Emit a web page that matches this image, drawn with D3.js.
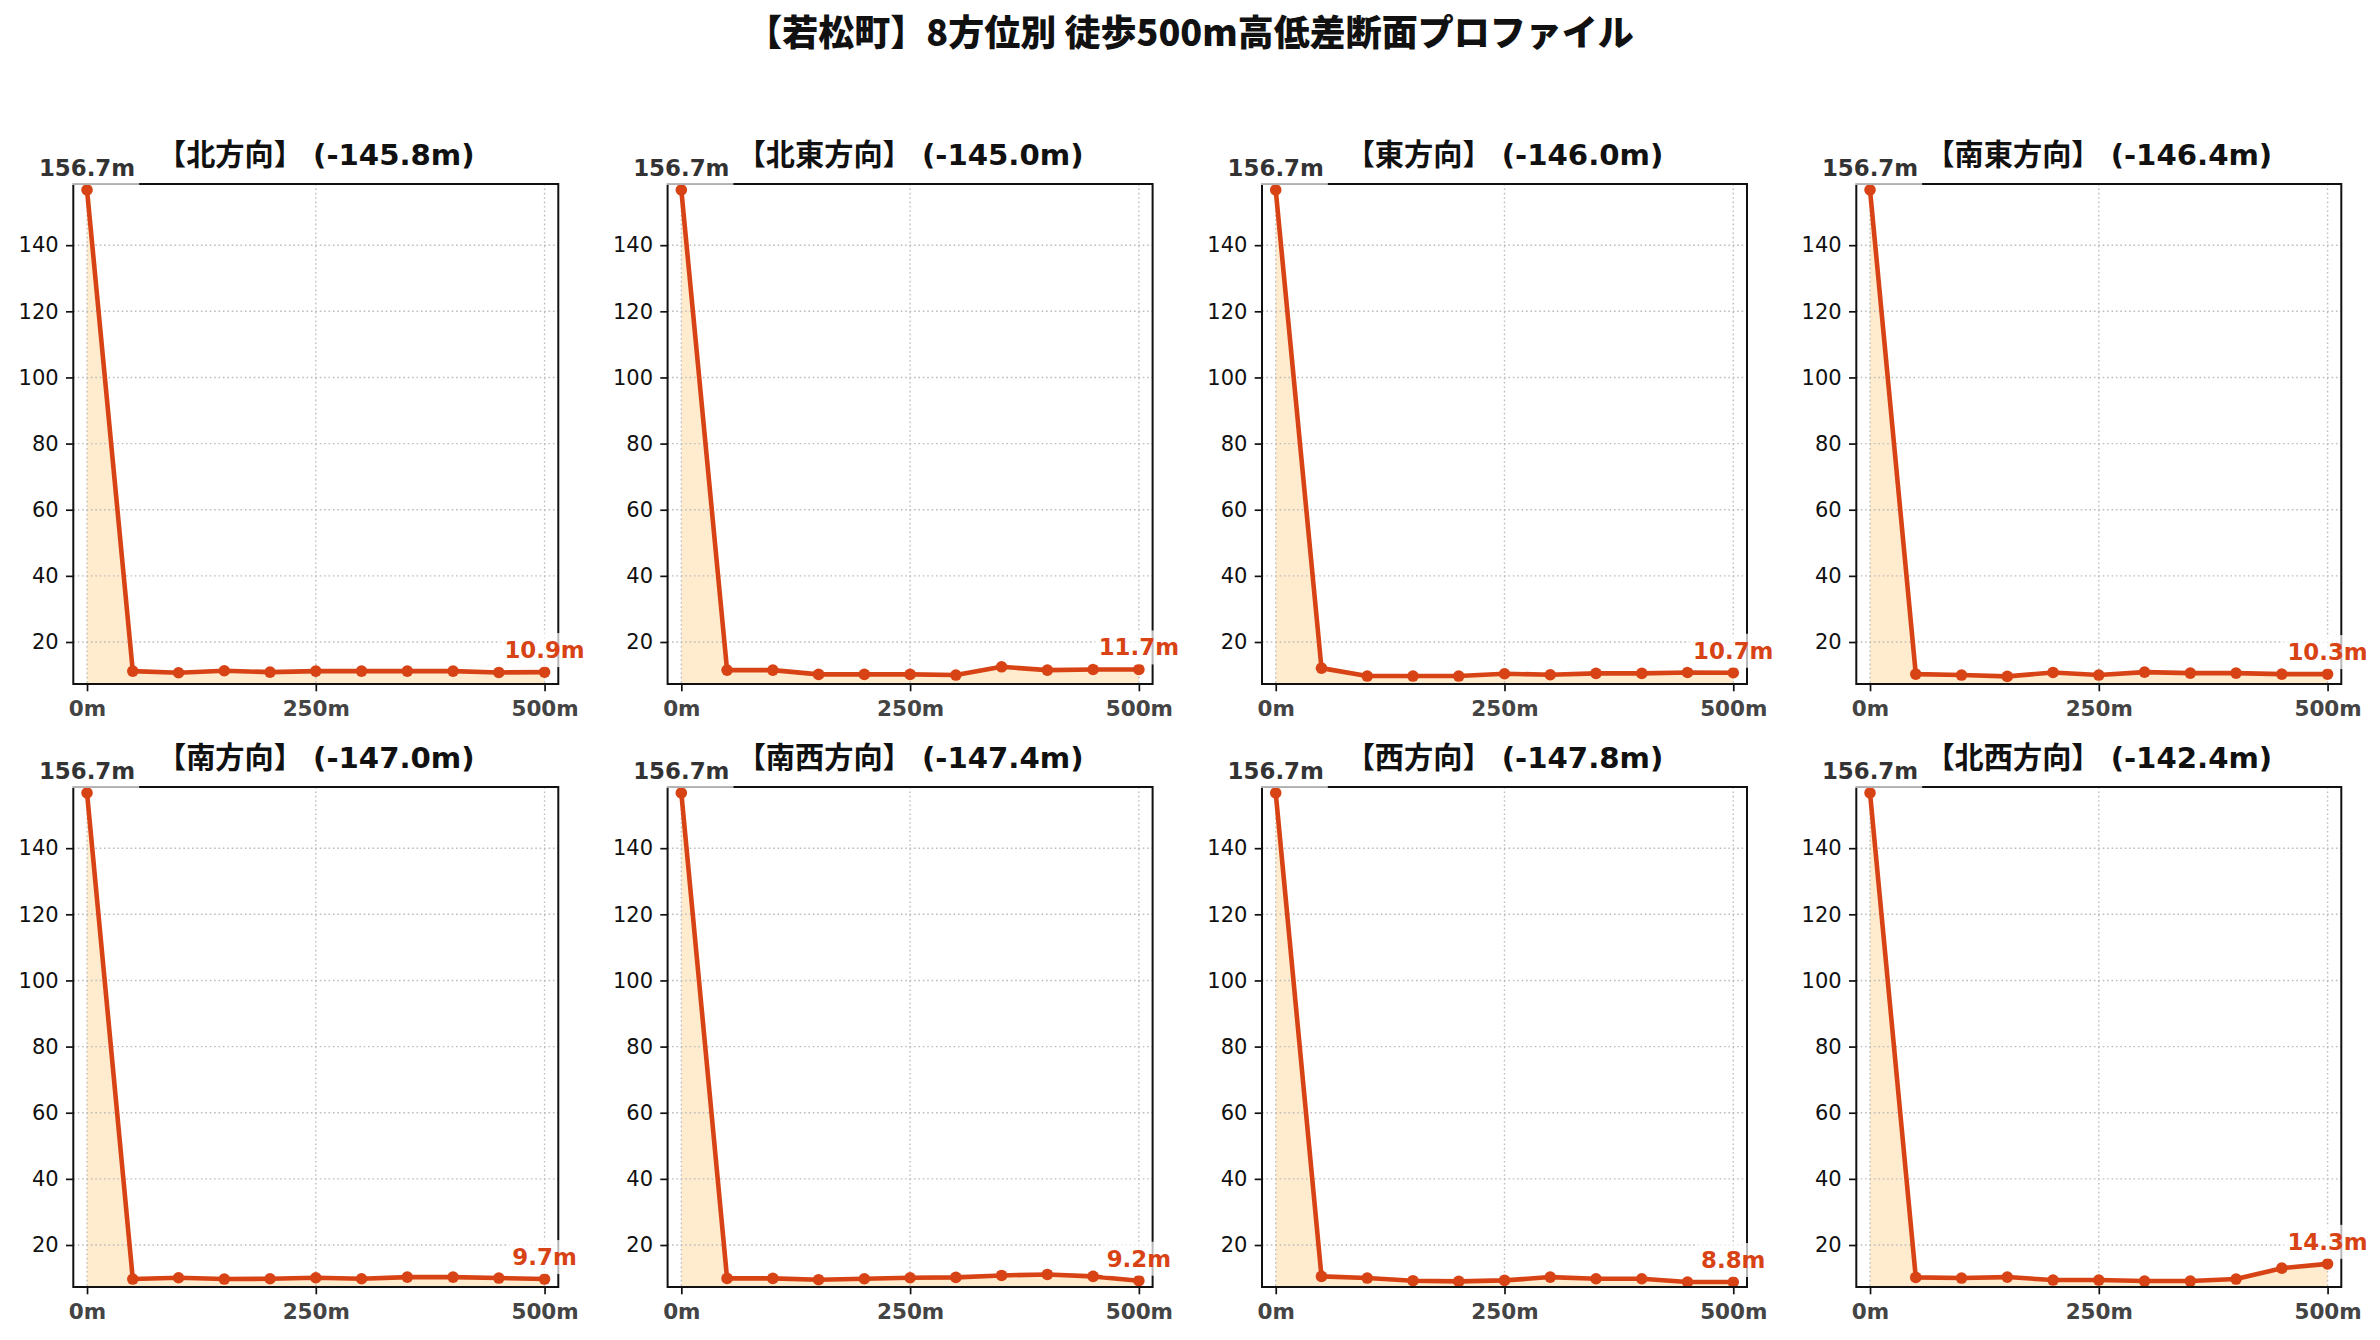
<!DOCTYPE html>
<html>
<head>
<meta charset="utf-8">
<script src="https://cdn.jsdelivr.net/npm/d3@7"></script>
<style>
  body { margin: 0; background: #fff; }
  svg { font-family: "DejaVu Sans", "Noto Sans CJK JP", sans-serif; }
</style>
</head>
<body>
<div id="chart"></div>
<script>
// Data
const distances = [0, 50, 100, 150, 200, 250, 300, 350, 400, 450, 500];
const directions = ["北", "北東", "東", "南東", "南", "南西", "西", "北西"];
const drops = ["-145.8", "-145.0", "-146.0", "-146.4", "-147.0", "-147.4", "-147.8", "-142.4"];
const elevN  = [156.7, 11.2, 10.7, 11.3, 10.9, 11.2, 11.2, 11.2, 11.2, 10.8, 10.9];
const elevNE = [156.7, 11.5, 11.5, 10.2, 10.2, 10.2, 10.0, 12.5, 11.5, 11.7, 11.7];
const elevE  = [156.7, 12.1, 9.7, 9.7, 9.7, 10.4, 10.1, 10.5, 10.5, 10.8, 10.7];
const elevSE = [156.7, 10.3, 10.0, 9.6, 10.8, 10.0, 10.9, 10.6, 10.6, 10.3, 10.3];
const elevS  = [156.7, 9.7, 10.1, 9.7, 9.8, 10.1, 9.8, 10.3, 10.3, 10.0, 9.7];
const elevSW = [156.7, 9.9, 9.9, 9.5, 9.8, 10.1, 10.2, 10.8, 11.1, 10.5, 9.2];
const elevW  = [156.7, 10.5, 10.0, 9.2, 9.0, 9.3, 10.3, 9.8, 9.8, 8.8, 8.8];
const elevNW = [156.7, 10.2, 10.0, 10.3, 9.4, 9.4, 9.1, 9.1, 9.7, 13.0, 14.3];
const yTicks = [20, 40, 60, 80, 100, 120, 140];
const xTicks = [0, 250, 500];
const mainTitle = "【若松町】8方位別 徒歩500m高低差断面プロファイル";

const profiles = [elevN, elevNE, elevE, elevSE, elevS, elevSW, elevW, elevNW];

// Layout
const W = 2380, H = 1340;
const panelW = 485, panelH = 500;
const colLeft = [73.3, 667.6, 1262, 1856.3];
const rowTop = [184, 787];
const lineColor = "#D84315";

const svg = d3.select("#chart")
  .append("svg")
  .attr("width", W)
  .attr("height", H);

svg.append("text")
  .attr("x", W / 2)
  .attr("y", 46)
  .attr("text-anchor", "middle")
  .style("font-family", "'Noto Sans CJK JP', sans-serif")
  .style("font-size", "36px")
  .style("font-weight", "900")
  .attr("fill", "#111")
  .text(mainTitle);

const x = d3.scaleLinear().domain([-15, 515]).range([0, panelW]);
const y = d3.scaleLinear().domain([7.3, 158.5]).range([panelH, 0]);

// label with a translucent white box behind it
function boxedLabel(g, px, py, txt, color) {
  const t = g.append("text")
    .attr("x", px)
    .attr("y", py)
    .attr("text-anchor", "middle")
    .style("font-size", "22.9px")
    .style("font-weight", "bold")
    .attr("fill", color)
    .text(txt);
  const bb = t.node().getBBox();
  const pad = 4;
  g.insert("rect", function() { return t.node(); })
    .attr("x", bb.x - pad)
    .attr("y", bb.y - pad)
    .attr("width", bb.width + 2 * pad)
    .attr("height", bb.height + 2 * pad)
    .attr("fill", "#fff")
    .attr("fill-opacity", 0.7);
}

profiles.forEach((elev, i) => {
  const data = distances.map((d, j) => ({ dist: d, elev: elev[j] }));
  const g = svg.append("g")
    .attr("transform", `translate(${colLeft[i % 4]},${rowTop[Math.floor(i / 4)]})`);

  // fill under the profile
  const area = d3.area()
    .x(d => x(d.dist))
    .y0(panelH)
    .y1(d => y(d.elev));
  g.append("path")
    .datum(data)
    .attr("d", area)
    .attr("fill", "#FFE0B2")
    .attr("fill-opacity", 0.65);

  // grid
  g.selectAll(".hgrid")
    .data(yTicks)
    .enter()
    .append("line")
    .attr("x1", 0).attr("x2", panelW)
    .attr("y1", d => y(d)).attr("y2", d => y(d))
    .attr("stroke", "#bdbdbd")
    .attr("stroke-width", 1.4)
    .attr("stroke-dasharray", "1.6,2.8");
  g.selectAll(".vgrid")
    .data(xTicks)
    .enter()
    .append("line")
    .attr("y1", 0).attr("y2", panelH)
    .attr("x1", d => x(d)).attr("x2", d => x(d))
    .attr("stroke", "#bdbdbd")
    .attr("stroke-width", 1.4)
    .attr("stroke-dasharray", "1.6,2.8");

  // axes
  const yAxis = g.append("g")
    .call(d3.axisLeft(y).tickValues(yTicks).tickSize(7.3).tickPadding(7.3).tickSizeOuter(0));
  yAxis.select(".domain").remove();
  yAxis.selectAll("line").attr("stroke", "#111").attr("stroke-width", 1.7);
  yAxis.selectAll("text")
    .style("font-family", "'DejaVu Sans', sans-serif")
    .style("font-size", "21px")
    .attr("fill", "#111");

  const xAxis = g.append("g")
    .attr("transform", `translate(0,${panelH})`)
    .call(d3.axisBottom(x).tickValues(xTicks).tickFormat(d => d + "m").tickSize(7.3).tickPadding(9).tickSizeOuter(0));
  xAxis.select(".domain").remove();
  xAxis.selectAll("line").attr("stroke", "#111").attr("stroke-width", 1.7);
  xAxis.selectAll("text")
    .style("font-family", "'DejaVu Sans', sans-serif")
    .style("font-size", "21.5px")
    .style("font-weight", "bold")
    .attr("fill", "#444");

  // profile line and markers
  const line = d3.line()
    .x(d => x(d.dist))
    .y(d => y(d.elev));
  g.append("path")
    .datum(data)
    .attr("d", line)
    .attr("fill", "none")
    .attr("stroke", lineColor)
    .attr("stroke-width", 4.6)
    .attr("stroke-linejoin", "round");
  g.selectAll(".pt")
    .data(data)
    .enter()
    .append("circle")
    .attr("cx", d => x(d.dist))
    .attr("cy", d => y(d.elev))
    .attr("r", 5.8)
    .attr("fill", lineColor);

  // frame
  g.append("rect")
    .attr("width", panelW)
    .attr("height", panelH)
    .attr("fill", "none")
    .attr("stroke", "#111")
    .attr("stroke-width", 2);

  // start / end labels
  const first = data[0], last = data[data.length - 1];
  boxedLabel(g, x(first.dist), y(first.elev) - 14, first.elev.toFixed(1) + "m", "#333");
  boxedLabel(g, x(last.dist), y(last.elev) - 14, last.elev.toFixed(1) + "m", lineColor);

  // panel title
  g.append("text")
    .attr("x", panelW / 2)
    .attr("y", -19)
    .attr("text-anchor", "middle")
    .style("font-size", "29.2px")
    .style("font-weight", "bold")
    .attr("fill", "#111")
    .text(`【${directions[i]}方向】 (${drops[i]}m)`);
});
</script>
</body>
</html>
